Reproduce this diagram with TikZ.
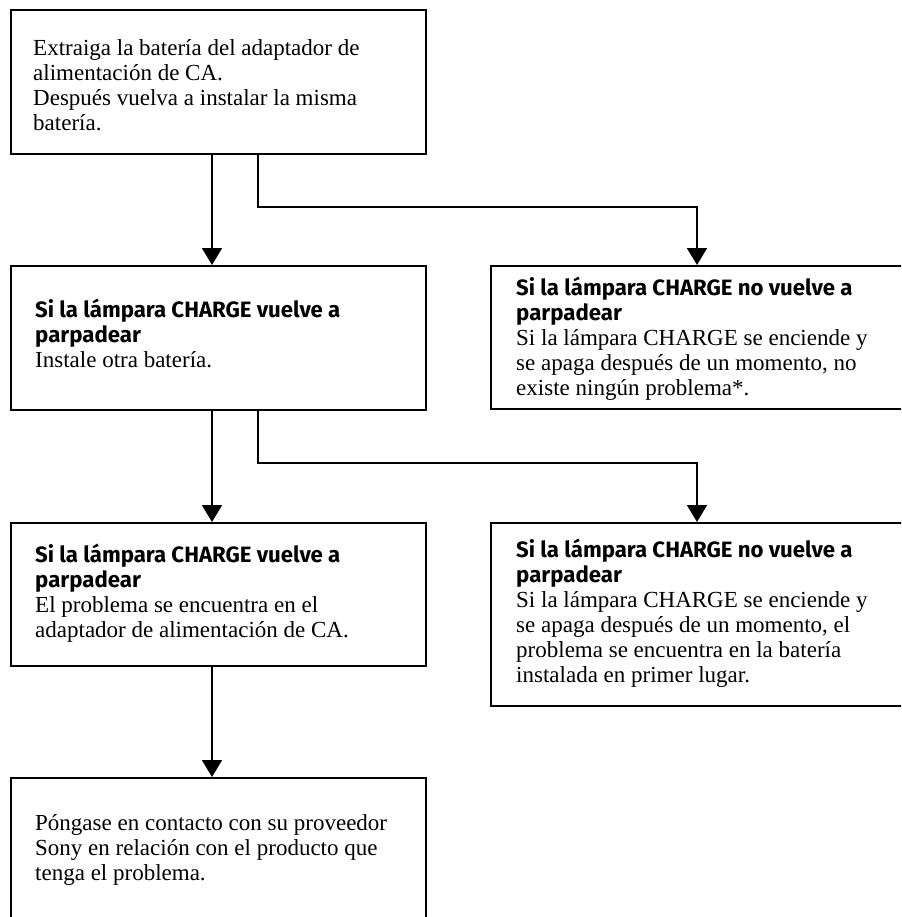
\documentclass[tikz,border=0pt]{standalone}
\usepackage{fontspec}
\setmainfont{Liberation Serif}
\newfontfamily\headfont{Fira Sans}
\usetikzlibrary{arrows.meta}
\newcommand{\hd}[1]{{\headfont\bfseries\fontsize{22.2pt}{25pt}\selectfont #1}}
\newcommand{\bodyfont}{\raggedright\fontsize{23pt}{25pt}\selectfont}
\begin{document}
\begin{tikzpicture}[x=1pt,y=-1pt,
  boxshape/.style={draw, line width=1.8pt, rectangle, minimum width=415pt, inner sep=0pt, anchor=north west},
  txt/.style={anchor=base west, inner sep=0pt},
  arr/.style={line width=1.8pt, -{Triangle[width=20pt,length=17pt]}},
  link/.style={line width=1.8pt}]
\useasboundingbox (0,0) rectangle (901,917);
\clip (0,0) rectangle (901,917);
\node[boxshape, minimum height=144pt] (b1) at (10,9) {};
\node[boxshape, minimum height=144pt] (b2) at (10,265) {};
\node[boxshape, minimum height=143pt] (b3) at (490,265) {};
\node[boxshape, minimum height=143pt] (b4) at (10,522) {};
\node[boxshape, minimum height=183pt] (b5) at (490,522) {};
\node[boxshape, minimum height=170pt] (b6) at (10,777) {};
\node[txt] (t1) at (33,56) {\parbox[t]{420pt}{\bodyfont
Extraiga la batería del adaptador de\\alimentación de CA.\\Después vuelva a instalar la misma\\batería.}};
\node[txt] (t2) at (35,317) {\parbox[t]{420pt}{\bodyfont
\hd{Si la lámpara CHARGE vuelve a\\parpadear}\\Instale otra batería.}};
\node[txt] (t3) at (516,295) {\parbox[t]{420pt}{\bodyfont
\hd{Si la lámpara CHARGE no vuelve a\\parpadear}\\Si la lámpara CHARGE se enciende y\\se apaga después de un momento, no\\existe ningún problema*.}};
\node[txt] (t4) at (35,562) {\parbox[t]{420pt}{\bodyfont
\hd{Si la lámpara CHARGE vuelve a\\parpadear}\\El problema se encuentra en el\\adaptador de alimentación de CA.}};
\node[txt] (t5) at (516,557) {\parbox[t]{420pt}{\bodyfont
\hd{Si la lámpara CHARGE no vuelve a\\parpadear}\\Si la lámpara CHARGE se enciende y\\se apaga después de un momento, el\\problema se encuentra en la batería\\instalada en primer lugar.}};
\node[txt] (t6) at (35,830) {\parbox[t]{420pt}{\bodyfont
Póngase en contacto con su proveedor\\Sony en relación con el producto que\\tenga el problema.}};
\coordinate (xl) at (212,0);
\coordinate (xr) at (258,0);
\coordinate (xf) at (697,0);
\coordinate (y1) at (0,207);
\coordinate (y2) at (0,463);
\draw[arr] (b1.south -| xl) -- (b2.north -| xl);
\draw[arr] (b1.south -| xr) |- (y1 -| xf) -- (b3.north -| xf);
\draw[arr] (b2.south -| xl) -- (b4.north -| xl);
\draw[arr] (b2.south -| xr) |- (y2 -| xf) -- (b5.north -| xf);
\draw[arr] (b4.south -| xl) -- (b6.north -| xl);
\end{tikzpicture}
\end{document}
